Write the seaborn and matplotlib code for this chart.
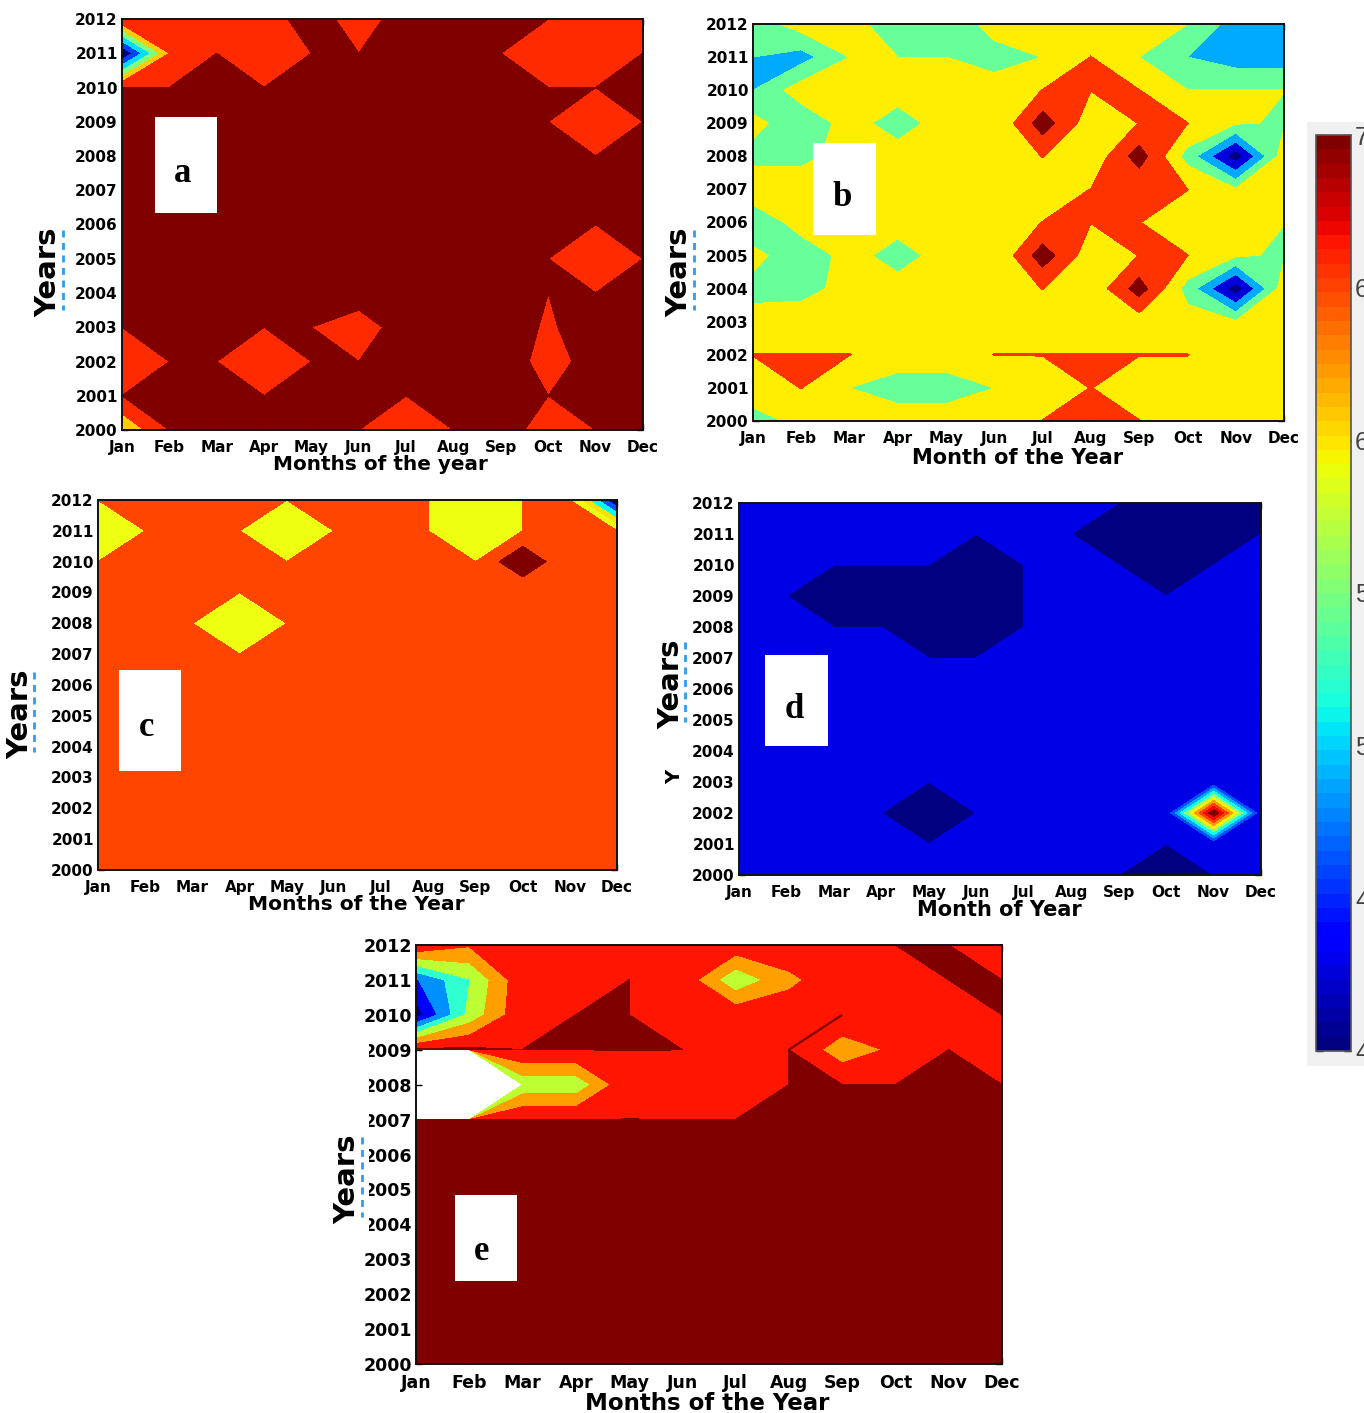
import numpy as np
import matplotlib
matplotlib.use("Agg")
import matplotlib.pyplot as plt
from matplotlib.colors import Normalize
from matplotlib.cm import ScalarMappable
from matplotlib.lines import Line2D
from matplotlib.patches import Rectangle
import seaborn as sns

W, H = 1364, 1413
months = ["Jan", "Feb", "Mar", "Apr", "May", "Jun", "Jul", "Aug", "Sep", "Oct", "Nov", "Dec"]
month_pos = list(range(1, 13))
years = list(range(2000, 2013))

# each grid: rows 2012 (first) down to 2000 (last), columns Jan..Dec
D = 6.002
a_rows = [
    [5.98, 5.5, 5.5, 5.5, 6.5, 5.5, 6.5, 6.5, 6.5, D, 5.5, 5.5],
    [-0.1, 5.0, D, 5.5, D, D, D, D, D, 5.5, 5.5, D],
    [D, D, D, D, D, D, D, D, D, D, D, D],
    [D, D, D, D, D, D, D, D, D, D, 5.5, D],
    [D, D, D, D, D, D, D, D, D, D, D, D],
    [D, D, D, D, D, D, D, D, D, D, D, D],
    [D, D, D, D, D, D, D, D, D, D, D, D],
    [D, D, D, D, D, D, D, D, D, D, 5.5, D],
    [D, D, D, D, D, 6.5, D, D, D, D, D, D],
    [D, D, D, D, D, 5.5, 6.5, D, 6.4, 5.9, 6.4, D],
    [5.5, D, D, 5.5, D, D, D, D, 6.75, 5.5, 6.5, D],
    [D, D, D, D, D, D, D, D, D, D, D, D],
    [4.1, D, D, D, D, D, 5.5, D, 6.5, 5.5, D, D],
]
R = 5.02
b_rows = [
    [3.47, 4.47, 4.3, 3.5, 3.5, 4.27, 4.5, 4.5, 4.5, 4.0, 2.55, 2.5],
    [3.0, 2.58, 4.02, 4.0, 4.0, 3.73, 4.01, R, 4.0, 3.0, 2.5, 2.5],
    [3.0, 4.56, 4.5, 4.5, 4.5, 4.3, R, R, R, 4.01, 4.01, 4.01],
    [4.37, 3.2, 4.45, 3.49, 4.51, 4.0, 6.54, 4.4, R, R, 4.1, 3.9],
    [3.6, 3.6, 4.6, 4.5, 4.5, 4.5, R, 4.23, 6.5, 3.6, 0.38, 4.6],
    [4.9, 4.9, 4.7, 4.5, 4.5, 4.5, 4.5, R, 5.1, R, 4.1, 4.5],
    [3.0, 4.56, 4.5, 4.5, 4.5, 4.5, R, R, R, 4.5, 4.4, 4.01],
    [4.37, 3.2, 4.45, 3.49, 4.51, 4.0, 6.54, 4.4, R, R, 4.1, 3.9],
    [3.6, 3.7, 4.3, 4.5, 4.5, 4.5, R, 4.23, 6.5, 3.6, 0.38, 4.6],
    [4.49, 4.5, 4.5, 4.5, 4.5, 4.5, 4.5, 4.5, 4.45, 4.45, 4.1, 4.5],
    [R, R, R, 4.5, 4.5, R, R, R, R, R, 4.5, 4.5],
    [4.5, R, 4.0, 3.55, 3.55, 4.0, 4.5, R, 4.5, 4.5, 4.5, 4.5],
    [3.67, 4.22, 4.5, 4.5, 4.5, 4.5, R, R, R, 4.5, 4.5, 4.5],
]
B = 5.002
c_rows = [
    [B, B, B, B, B, B, B, 5.0, 4.5, 5.0, B, -0.1],
    [4.5, B, B, B, 4.5, B, B, 5.0, 4.5, 5.0, B, B],
    [B, B, B, B, B, B, B, B, 5.0, 6.99, B, B],
    [B] * 12,
    [B, B, B, 4.5, B, B, B, B, B, B, B, B],
    [B] * 12, [B] * 12, [B] * 12, [B] * 12, [B] * 12, [B] * 12, [B] * 12, [B] * 12,
]
E = 1.002
d_rows = [
    [E, E, E, E, E, E, E, E, 1.0, 0.5, 0.5, 0.5],
    [E, E, E, E, E, E, E, E, 0.5, 0.5, 0.5, 1.0],
    [E, E, 1.0, 1.0, 1.0, 0.5, 1.0, E, 1.0, 0.5, 1.0, E],
    [E, E, 0.5, 0.5, 0.5, 0.5, 1.0, E, E, 1.0, E, E],
    [E, E, 1.0, 1.0, 0.5, 0.5, 1.0, E, E, E, E, E],
    [E, E, E, E, 1.0, 1.0, E, E, E, E, E, E],
    [E] * 12, [E] * 12, [E] * 12, [E] * 12,
    [E, E, E, E, 0.5, E, E, E, E, E, 11.1, E],
    [E] * 12,
    [E, E, E, E, E, E, E, E, E, 0.5, E, E],
]
G = 7.002
e_rows = [
    [6.98, 6.1, 6.5, 6.5, 6.5, 6.5, 6.7, 6.6, 6.5, G, G, 6.5],
    [1.9, 3.95, 6.75, 6.5, G, 6.7, 4.2, 5.8, 6.57, 6.5, G, G],
    [0.46, 4.3, 6.8, G, G, 6.5, 6.7, 6.5, 6.93, 6.5, 6.5, G],
    [7.2, 7.2, G, G, G, G, 6.5, G, 5.38, 6.2, G, 6.5],
    [-99999, -99999, 4.27, 4.27, 6.9, 6.5, 6.5, G, G, G, 7.5, G],
    [G, G, G, G, G, G, G, 7.5, 7.5, 7.5, 7.5, 7.5],
    [7.5] * 12, [7.5] * 12, [7.5] * 12, [7.5] * 12, [7.5] * 12, [7.5] * 12, [7.5] * 12,
]
e_ridge_months = [8, 9]
e_ridge_years = [2009, 2010]

# colour bands per panel
a_levels = [-2, 1, 2, 3, 4, 5, 6, 20]
a_colors = ["#000080", "#0040FF", "#00DDFF", "#80FF80", "#FFCC00", "#FF2A00", "#800000"]
b_levels = [-2, 1, 2, 3, 4, 5, 6, 20]
b_colors = ["#000080", "#0000DD", "#00AAFF", "#66FF99", "#FFEE00", "#FF3300", "#800000"]
c_levels = [-2, 1, 2, 3, 4, 5, 6, 20]
c_colors = ["#000080", "#0050FF", "#00FFF0", "#FFE000", "#EEFF11", "#FF4500", "#800000"]
d_levels = [-2, 1, 2, 3, 4, 5, 6, 7, 8, 9, 10, 20]
d_colors = ["#000080", "#0000E6", "#0050FF", "#00A8FF", "#10FFEE", "#90FF70",
            "#FFF000", "#FFA000", "#FF4000", "#FF0000", "#800000"]
e_levels = [-2, 1, 2, 3, 4, 5, 6, 7, 20]
e_colors = ["#000080", "#0000FF", "#0090FF", "#30FFD0", "#BEFF33", "#FF9F00", "#FF1500", "#800000"]

sns.set_style("ticks")
plt.rcParams["font.family"] = ["DejaVu Sans"]
plt.rcParams["font.weight"] = "bold"
fig = plt.figure(figsize=(W / 100, H / 100), dpi=100, facecolor="white")


def fx(x):
    return x / W


def fy(y):
    return 1 - y / H


def panel(box, rows, levels, colors, xlabel, xlabel_xy, label_size, tick_size=11):
    l, t, r, b = box
    ax = fig.add_axes([fx(l), fy(b), (r - l) / W, (b - t) / H], facecolor="white")
    z = np.array(rows, dtype=float)[::-1]
    ax.contourf(month_pos, years, z, levels=levels, colors=colors)
    ax.set_xlim(1, 12)
    ax.set_ylim(2000, 2012)
    ax.set_xticks(month_pos, months)
    ax.set_yticks(years, [str(y) for y in years])
    sns.despine(ax=ax, top=False, right=False)
    ax.tick_params(direction="in", length=4, width=1, top=True, right=True,
                   labelsize=tick_size, color="black", labelcolor="black")
    ax.tick_params(axis="x", pad=7)
    ax.tick_params(axis="y", pad=3)
    for s in ax.spines.values():
        s.set_linewidth(1.4)
        s.set_color("#111111")
    ax.set_zorder(1)
    fig.text(fx(xlabel_xy[0]), fy(xlabel_xy[1]), xlabel, ha="center", va="center",
             fontsize=label_size, fontweight="bold", color="black")
    return ax


def years_label(x, y, dots_x, size=21):
    fig.text(fx(x), fy(y), "Years", rotation=90, ha="center", va="center",
             fontsize=size, fontweight="bold", color="black", zorder=5)
    fig.add_artist(Line2D([fx(dots_x), fx(dots_x)], [fy(y - 42), fy(y + 38)],
                          color="#2A9DF4", lw=2, dashes=(2.5, 2), zorder=5))


def letter_box(x0, y0, x1, y1, s, lx, ly):
    ov = fig.add_axes([fx(x0), fy(y1), (x1 - x0) / W, (y1 - y0) / H], facecolor="white", zorder=6)
    ov.set_xticks([])
    ov.set_yticks([])
    for sp in ov.spines.values():
        sp.set_visible(False)
    ov.text((lx - x0) / (x1 - x0), (y1 - ly) / (y1 - y0), s, transform=ov.transAxes,
            ha="center", va="center", fontsize=25, family="Liberation Serif",
            fontweight="bold", color="black")


panel((122, 19, 643, 430), a_rows, a_levels, a_colors, "Months of the year", (380, 464), 14.4)
panel((753, 24, 1284, 421), b_rows, b_levels, b_colors, "Month of the Year", (1018, 458), 15)
panel((98, 500, 617, 870), c_rows, c_levels, c_colors, "Months of the Year", (356, 905), 14.6)
panel((739, 503, 1261, 875), d_rows, d_levels, d_colors, "Month of Year", (999, 910), 15)
ax_e = panel((416, 945, 1002, 1364), e_rows, e_levels, e_colors, "Months of the Year", (707, 1403), 16.5,
             tick_size=12.5)
ax_e.plot(e_ridge_months, e_ridge_years, color="#800000", lw=1.6, solid_capstyle="butt")

years_label(48, 272, 63)
years_label(679, 272, 694)
years_label(20, 714, 34)
years_label(671, 684, 685)
years_label(347, 1179, 362)
fig.text(fx(675), fy(777), "Y", rotation=90, ha="center", va="center", fontsize=14,
         fontweight="bold", color="black")

letter_box(155, 117, 217, 213, "a", 183, 173)
letter_box(813, 143, 876, 235, "b", 842, 198)
letter_box(119, 670, 181, 771, "c", 147, 727)
letter_box(765, 655, 828, 746, "d", 794, 710)
letter_box(455, 1195, 517, 1281, "e", 482, 1251)

# clipped left digits of the lower panel's year labels
mask = fig.add_axes([fx(363), fy(1250), 6 / W, 210 / H], facecolor="white", zorder=4)
mask.set_xticks([])
mask.set_yticks([])
for sp in mask.spines.values():
    sp.set_visible(False)

# colour bar on its grey panel
fig.add_artist(Rectangle((fx(1307), fy(1066)), 57 / W, 944 / H, transform=fig.transFigure,
                         facecolor="#F0F0F0", edgecolor="none", zorder=0))
cax = fig.add_axes([fx(1316), fy(1051), 35 / W, 916 / H], zorder=2)
jet64 = plt.get_cmap("jet", 64)
cb = fig.colorbar(ScalarMappable(Normalize(4, 7), jet64), cax=cax)
cb_ticks = [4, 4.5, 5, 5.5, 6, 6.5, 7]
cb_labels = ["4", "4", "5", "5", "6", "6", "7"]
cb.set_ticks(cb_ticks, labels=cb_labels)
cax.tick_params(direction="in", length=5, width=1, left=True, right=True, color="black",
                labelsize=18, labelcolor="#444444", pad=3)
for lab in cax.get_yticklabels():
    lab.set_family("Liberation Sans")
    lab.set_fontweight("normal")
cb.outline.set_edgecolor("#555555")
cb.outline.set_linewidth(1.2)

fig.savefig("out.png", dpi=100, facecolor="white")
